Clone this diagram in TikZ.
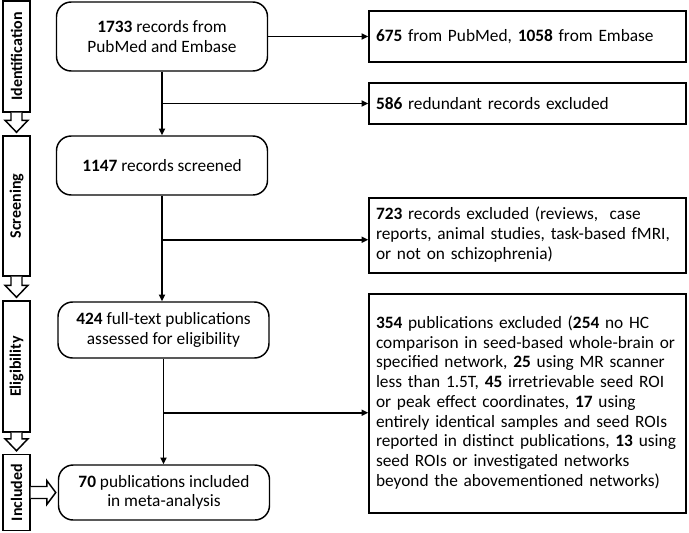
\documentclass[tikz,border=0pt]{standalone}
\usepackage{fontspec}
\setmainfont{Carlito}
\usepackage{tikz}
\usetikzlibrary{positioning,calc,arrows.meta}

\begin{document}
\begin{tikzpicture}[x=0.75pt, y=-0.75pt, font=\fontsize{13pt}{14.8pt}\selectfont,
    mainbox/.style={draw, line width=1.1pt, rounded corners=11pt, align=center, minimum width=158.25pt, inner sep=0pt},
    sidebox/.style={draw, line width=1.1pt, align=left, text width=227.25pt, inner xsep=5.25pt, inner ysep=0pt, minimum width=237.75pt},
    stagebox/.style={draw, line width=1.1pt, minimum width=20.25pt, inner sep=0pt, font=\fontsize{12pt}{14pt}\selectfont},
    flow/.style={line width=1.2pt, -{Triangle[length=5pt,width=4.5pt]}},
    blockarrow/.style={draw, line width=1.1pt, fill=white, line join=miter}]
        \useasboundingbox (0,0) rectangle (689,532);
        % Stages on the left
        \node[stagebox, minimum height=83.25pt] (ident) at (16.5,56.5) {\rotatebox{90}{\textbf{Identification}}};
        \node[stagebox, minimum height=105pt] (screen) at (16.5,206) {\rotatebox{90}{\textbf{Screening}}};
        \node[stagebox, minimum height=98.25pt] (elig) at (16.5,366.5) {\rotatebox{90}{\textbf{Eligibility}}};
        \node[stagebox, minimum height=57pt] (incl) at (16.5,492.5) {\rotatebox{90}{\textbf{Included}}};
        % Block arrows between the stages
        \foreach \a/\b in {ident/screen, screen/elig, elig/incl} {
            \draw[blockarrow] ($(\a.south)+(-5.5,0)$) -- ($(\b.north)+(-5.5,-15)$) -- ++(-6,0)
                -- ($(\b.north)+(0,-3)$) -- ($(\b.north)+(11.5,-15)$) -- ++(-6,0) -- ($(\a.south)+(5.5,0)$);
        }
        % Main flow boxes
        \node[mainbox, minimum height=51.75pt] (records) at (162,36.5) {\textbf{1733} records from\\PubMed and Embase};
        \node[mainbox, minimum height=44.25pt] (screened) at (162,165.5) {\textbf{1147} records screened};
        \node[mainbox, minimum height=42pt] (fulltext) at (163.5,330) {\textbf{424} full-text publications\\assessed for eligibility};
        \node[mainbox, minimum height=41.25pt] (included) at (164,492.5) {\textbf{70} publications included\\in meta-analysis};
        % Block arrow into the last box
        \draw[blockarrow] ($(incl.east)+(0,-6)$) -- ($(included.west)+(-11,-6)$) -- ++(0,-6)
            -- ($(included.west)+(-2,0)$) -- ($(included.west)+(-11,12)$) -- ++(0,-6) -- ($(incl.east)+(0,6)$);
        % Boxes on the right
        \node[sidebox, minimum height=38.25pt] (sources) at (527.5,36.5) {\textbf{675} from PubMed, \textbf{1058} from Embase};
        \node[sidebox, minimum height=30.75pt] (redundant) at (527.5,103.5) {\textbf{586} redundant records excluded};
        \node[sidebox, minimum height=56.25pt] (excluded) at (527.5,235.5) {\begin{tabular}{@{}l@{}}
            \textbf{723} records excluded (reviews,~ case\\
            reports, animal studies, task-based fMRI,\\
            or not on schizophrenia)\end{tabular}};
        \node[sidebox, minimum height=164.25pt] (removed) at (527.5,403.5) {\begin{tabular}{@{}l@{}}
            \textbf{354} publications excluded (\textbf{254} no HC\\
            comparison in seed-based whole-brain or\\
            specified network, \textbf{25} using MR scanner\\
            less than 1.5T, \textbf{45} irretrievable seed ROI\\
            or peak effect coordinates, \textbf{17} using\\
            entirely identical samples and seed ROIs\\
            reported in distinct publications, \textbf{13} using\\
            seed ROIs or investigated networks\\
            beyond the abovementioned networks)\end{tabular}};
        % Connectors
        \draw[flow] (records.east) -- (sources.west);
        \draw[flow] (records.south) -- (screened.north);
        \coordinate (b1) at (records.south |- redundant.west);
        \draw[flow] (b1) -- (redundant.west);
        \draw[flow] (screened.south) -- (screened.south |- fulltext.north);
        \coordinate (b2) at ($(screened.south)+(0,44)$);
        \draw[flow] (b2) -- (b2 -| excluded.west);
        \draw[flow] (fulltext.south) -- (fulltext.south |- included.north);
        \coordinate (b3) at ($(fulltext.south)+(0,54)$);
        \draw[flow] (b3) -- (b3 -| removed.west);
    \end{tikzpicture}
\end{document}
